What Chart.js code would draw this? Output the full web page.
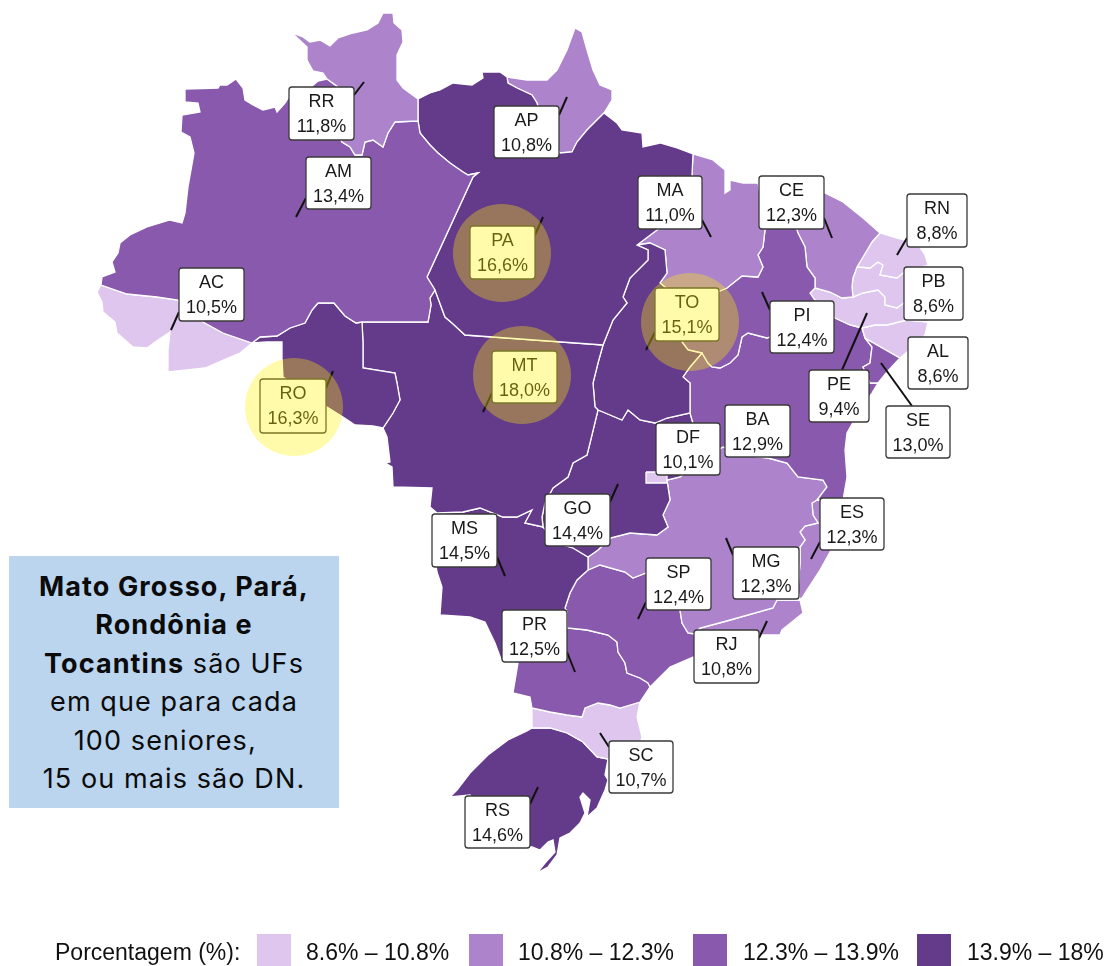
<!DOCTYPE html>
<html lang="pt-BR">
<head>
<meta charset="utf-8">
<title>Porcentagem por UF</title>
<script src="https://cdn.jsdelivr.net/npm/chart.js@4"></script>
<style>
    html, body { margin: 0; padding: 0; background: #fff; }
    #wrap { position: relative; width: 1109px; height: 966px; overflow: hidden; }
    canvas { position: absolute; left: 0; top: 0; }
    #note {
        position: absolute; left: 9px; top: 556px; width: 330px; height: 252px;
        background: #bbd5ee; color: #0b0b0b;
        font-family: Inter, "Open Sans", sans-serif; font-size: 27px; line-height: 38.4px; letter-spacing: 1.1px;
        text-align: center; white-space: pre; padding-top: 12px; box-sizing: border-box;
    }
    #legend { font-family: "Liberation Sans", Arial, sans-serif; font-size: 23px; color: #111; }
    #legend span { position: absolute; top: 938px; line-height: 28px; white-space: pre; }
    #legend i { position: absolute; top: 934px; width: 34px; height: 32px; }
</style>
</head>
<body>
<div id="wrap">
    <canvas id="mapChart" width="1109" height="966"></canvas>
    <div id="note"><b>Mato Grosso, Pará,</b>
<b>Rondônia e</b>
<b>Tocantins</b> são UFs
em que para cada
100 seniores,&nbsp;&nbsp;
15 ou mais são DN.</div>
    <div id="legend"></div>
</div>
<script>
const ufCodes = ['DF','RR','AM','AC','RO','PA','AP','MT','TO','MA','PI','CE','RN','PB','PE','AL','SE','BA','GO','MS','MG','ES','RJ','SP','PR','SC','RS'];
const ufValues = [10.1,11.8,13.4,10.5,16.3,16.6,10.8,18.0,15.1,11.0,12.4,12.3,8.8,8.6,9.4,8.6,13.0,12.9,14.4,14.5,12.3,12.3,10.8,12.4,12.5,10.7,14.6];

const binLimits = [10.7, 12.3, 13.9, 18];
const binColors = ['#dec6ee', '#ad84cc', '#8859ad', '#643a8b'];
const binLabels = ['8.6% – 10.8%', '10.8% – 12.3%', '12.3% – 13.9%', '13.9% – 18%'];
const legendTitle = 'Porcentagem (%):';

const highlighted = ['RO','PA','MT','TO'];
const highlightCenters = [[294,407],[502,253],[522,375],[690,322]];

// label boxes: left, top, right, bottom (same order as ufCodes)
const labelBoxes = [[656,423,720,475],[289,87,354,140],[306,157,371,209],[179,268,244,321],[260,379,326,433],[470,226,535,279],[494,106,559,158],[492,351,557,403],[655,288,719,341],[638,176,702,229],[770,301,834,353],[759,176,824,229],[907,194,967,247],[904,267,963,320],[809,370,869,422],[908,337,968,389],[886,406,950,458],[725,405,790,457],[545,494,610,546],[432,514,497,567],[733,547,799,599],[820,498,884,550],[694,630,759,683],[646,558,711,610],[502,610,567,662],[609,741,673,793],[465,796,530,848]];

// leader lines
const leaders = [[[354,95],[364,82]],[[306,198],[296,217]],[[179,312],[171,330]],[[559,115],[567,97]],[[535,235],[543,217]],[[702,220],[711,237]],[[655,332],[646,350]],[[492,393],[483,412]],[[326,388],[333,371]],[[497,557],[505,576]],[[610,502],[618,484]],[[646,602],[638,619]],[[733,555],[726,538]],[[820,542],[811,559]],[[759,638],[767,621]],[[567,652],[575,672]],[[609,747],[600,733]],[[530,804],[538,787]],[[824,218],[832,238]],[[907,238],[897,255]],[[770,310],[762,292]],[[842,370],[867,313]],[[912,406],[881,363]]];

// borders, shared between neighbours
const rrOuter = [[327,79],[323,73],[313,71],[307,60],[307,47],[292,33],[303,37],[310,42],[320,40],[330,46],[338,38],[353,33],[367,30],[378,23],[383,13],[393,13],[394,23],[402,30],[403,42],[397,55],[397,80],[403,88],[418,99],[418,121]];
const rrAm = [[418,121],[395,122],[388,133],[383,147],[373,140],[365,142],[362,155],[355,155],[350,147],[342,142],[337,133],[343,110],[338,87],[327,79]];
const amNorth = [[327,79],[318,81],[310,88],[290,95],[285,103],[277,112],[275,107],[263,110],[253,105],[245,100],[243,88],[236,79],[227,85],[220,85],[218,88],[185,89],[185,102],[198,103],[200,112],[182,115],[181,132],[190,137],[194,153],[188,187],[185,213],[182,223],[170,220],[147,227],[130,235],[120,243],[118,253],[112,262],[115,272],[102,277],[101,285]];
const acAm = [[101,285],[127,294],[157,297],[178,300],[203,322],[223,333],[252,343]];
const acSouth = [[101,285],[97,292],[102,302],[103,312],[115,322],[117,333],[133,347],[147,348],[158,340],[170,332],[168,350],[168,372],[205,368],[228,358],[240,353],[252,343]];
const amRo = [[252,343],[260,337],[277,336],[290,328],[305,323],[312,310],[318,303],[334,303],[345,316],[356,323],[362,322]];
const amMt = [[362,322],[428,322],[431,305],[430,298],[435,290]];
const amPa = [[435,290],[427,277],[473,177],[478,173],[468,175],[463,172],[450,163],[438,153],[430,145],[420,133],[418,121]];
const roMt = [[362,322],[363,343],[363,368],[395,373],[397,383],[400,400],[393,413],[383,428]];
const roSouth = [[383,428],[373,426],[355,425],[343,417],[327,407],[283,377],[282,358],[282,342],[267,342],[252,343]];
const paNorth = [[418,121],[418,99],[430,93],[440,90],[453,83],[472,85],[483,78],[482,72],[500,72],[507,77]];
const paAp = [[507,77],[508,83],[517,88],[532,95],[537,103],[545,130],[560,153],[572,152],[577,142],[587,130],[600,117],[604,113]];
const apOuter = [[507,77],[527,80],[547,80],[557,70],[567,50],[575,28],[582,32],[587,50],[593,70],[600,85],[612,90],[612,100],[604,113]];
const paCoast = [[604,113],[617,123],[622,130],[642,133],[643,147],[660,143],[677,148],[693,154]];
const paMa = [[693,154],[692,175],[690,195],[680,215],[657,230],[637,245]];
const paTo = [[637,245],[648,250],[648,260],[630,278],[623,297],[627,303],[613,320],[603,345]];
const paMt = [[435,290],[445,317],[452,323],[465,335],[603,345]];
const maTo = [[637,245],[650,243],[665,250],[667,273],[660,283],[680,300]];
const toPi = [[680,300],[682,342],[688,350],[697,352],[702,353]];
const toBa = [[702,353],[690,367],[683,377],[690,383],[690,413]];
const toGo = [[690,413],[667,418],[655,423],[640,420],[628,410],[622,420],[603,412],[598,410]];
const mtTo = [[603,345],[598,363],[593,383],[595,407],[598,410]];
const mtGo = [[598,410],[590,443],[587,455],[573,463],[568,477],[553,488],[545,503],[542,517],[543,527]];
const mtMs = [[543,527],[525,523],[532,510],[517,517],[503,517],[480,508],[463,512],[437,513]];
const mtWest = [[437,513],[430,507],[432,488],[393,487],[392,467],[385,463],[390,462],[387,437],[383,428]];
const maCoast = [[693,154],[713,160],[725,170],[725,193],[730,190],[730,180],[743,183],[758,183]];
const maPi = [[758,183],[762,205],[765,230],[763,247],[758,255],[763,267],[758,277],[742,276],[727,288],[720,291],[705,295],[680,300]];
const piCoast = [[758,183],[775,186]];
const piCe = [[775,186],[790,210],[798,233],[805,247],[807,267],[815,278],[815,288]];
const piPe = [[815,288],[810,293],[817,303],[826,315]];
const piBa = [[826,315],[800,325],[767,338],[748,333],[742,337],[738,355],[730,363],[720,368],[712,367],[708,363],[702,353]];
const ceCoast = [[775,186],[790,187],[823,192],[843,202],[863,218],[880,233]];
const ceRn = [[880,233],[872,242],[863,257],[857,267]];
const cePb = [[857,267],[853,278],[852,287],[853,297]];
const cePe = [[815,288],[830,292],[842,298],[853,297]];
const rnCoast = [[880,233],[897,238],[917,243],[925,255],[928,265]];
const rnPb = [[857,267],[870,268],[878,262],[883,265],[880,275],[897,278],[903,273],[928,265]];
const pbCoast = [[928,265],[932,290],[932,305]];
const pbPe = [[853,297],[863,293],[878,290],[885,297],[885,305],[897,308],[905,302],[932,305]];
const peCoast = [[932,305],[928,322]];
const peAl = [[862,328],[875,325],[887,325],[907,320],[928,322]];
const peBa = [[826,315],[835,318],[850,325],[862,328]];
const alCoast = [[928,322],[925,335],[913,347],[900,358]];
const alSe = [[865,338],[900,358]];
const seCoast = [[900,358],[887,372],[878,383]];
const seBa = [[878,383],[870,383],[863,367],[870,363],[872,347],[865,338]];
const baCoast = [[878,383],[872,393],[860,410],[847,433],[845,450],[847,477],[843,500]];
const baEs = [[817,500],[843,500]];
const goBa = [[690,413],[695,430],[700,460]];
const mgBa = [[700,460],[723,447],[745,455],[768,458],[787,463],[798,477],[823,480],[827,487],[817,500]];
const goMs = [[543,527],[553,538],[563,545],[573,548],[588,557]];
const goMg = [[588,557],[598,550],[610,538],[630,533],[657,535],[668,527],[663,515],[670,500],[667,480],[680,477],[700,460]];
const msMg = [[588,557],[588,570]];
const msSp = [[588,570],[577,580],[570,593],[565,608],[567,612]];
const msPr = [[567,612],[555,620],[530,640],[505,660]];
const msWest = [[505,660],[502,662],[495,643],[485,622],[470,617],[440,615],[442,587],[437,572],[432,540],[437,513]];
const mgSp = [[588,570],[600,565],[625,572],[633,578],[646,573],[665,580],[680,610],[682,623],[688,633],[695,634]];
const mgEs = [[817,500],[812,503],[813,515],[818,523],[805,526],[800,532],[805,540],[800,547],[800,563],[798,590],[800,600]];
const mgRj = [[800,600],[777,600],[773,608],[723,622],[700,628],[695,634]];
const esCoast = [[843,500],[838,530],[830,552],[820,570],[807,590],[802,598],[800,600]];
const rjCoast = [[800,600],[803,613],[782,630],[780,635],[760,635],[730,648],[705,653]];
const spRj = [[695,634],[705,653]];
const spCoast = [[705,653],[693,657],[670,667],[650,687]];
const prSp = [[567,612],[567,628],[587,630],[608,635],[617,642],[618,652],[625,663],[627,673],[640,678],[648,683],[650,687]];
const prCoast = [[650,687],[640,702]];
const prSc = [[640,702],[620,708],[610,705],[598,703],[585,708],[582,717],[567,715],[550,712],[532,708]];
const prWest = [[532,708],[530,697],[513,693],[518,663],[505,660]];
const scCoast = [[640,702],[637,717],[642,737],[640,745],[612,760],[608,759]];
const scRs = [[608,759],[597,757],[583,742],[567,733],[550,728],[532,728]];
const rsCoast = [[608,759],[605,775],[608,780],[605,790],[597,808],[587,817],[590,800],[583,793],[580,797],[585,813],[580,823],[570,833],[560,838],[557,855],[548,867],[537,873],[545,863],[555,852],[553,840],[548,842],[540,850],[532,847],[515,845],[490,820],[470,795],[450,797],[457,790],[470,773],[488,755],[508,740],[527,731],[532,728]];
const dfShape = [[646,472],[667,472],[667,483],[646,483],[646,472]];

function rev(seg) { return seg.slice().reverse(); }
function ring(...segs) {
    const pts = [].concat(...segs);
    pts.push(pts[0]);
    return pts.map(p => ({ x: p[0], y: p[1] }));
}

const shapes = {
    DF: ring(dfShape),
    RR: ring(rrOuter, rrAm),
    AM: ring(amNorth, acAm, amRo, amMt, amPa, rrAm),
    AC: ring(rev(acAm), acSouth),
    RO: ring(amRo, roMt, roSouth),
    PA: ring(paNorth, paAp, paCoast, paMa, paTo, rev(paMt), amPa),
    AP: ring(apOuter, rev(paAp)),
    MT: ring(amMt, paMt, mtTo, mtGo, mtMs, mtWest, rev(roMt)),
    TO: ring(rev(paTo), maTo, toPi, toBa, toGo, rev(mtTo)),
    MA: ring(maCoast, maPi, rev(maTo), rev(paMa)),
    PI: ring(piCoast, piCe, piPe, piBa, rev(toPi), rev(maPi)),
    CE: ring(ceCoast, ceRn, cePb, rev(cePe), rev(piCe)),
    RN: ring(rnCoast, rev(rnPb), rev(ceRn)),
    PB: ring(rnPb, pbCoast, rev(pbPe), rev(cePb)),
    PE: ring(cePe, pbPe, peCoast, rev(peAl), rev(peBa), rev(piPe)),
    AL: ring(peAl, alCoast, rev(alSe)),
    SE: ring(alSe, seCoast, seBa),
    BA: ring(toBa, goBa, mgBa, baEs, rev(baCoast), seBa, rev(peBa), piBa),
    GO: ring(rev(toGo), mtGo, goMs, goMg, rev(goBa)),
    MS: ring(rev(mtMs), goMs, msMg, msSp, msPr, msWest),
    MG: ring(goMg, mgBa, mgEs, mgRj, rev(mgSp), rev(msMg)),
    ES: ring(baEs, esCoast, rev(mgEs)),
    RJ: ring(rev(mgRj), rjCoast, rev(spRj)),
    SP: ring(mgSp, spRj, spCoast, rev(prSp), rev(msSp)),
    PR: ring(prSp, prCoast, prSc, prWest, rev(msPr)),
    SC: ring(rev(prSc), scCoast, scRs),
    RS: ring(rev(scRs), rsCoast)
};

function binColor(v) {
    return binColors[binLimits.findIndex(l => v <= l)];
}

// --- datasets ---
const stateSets = ufCodes.map(function(uf, i) {
    return {
        label: uf,
        data: shapes[uf],
        showLine: true,
        fill: 'shape',
        backgroundColor: binColor(ufValues[i]),
        borderColor: '#ffffff',
        borderWidth: 1.3,
        pointRadius: 0,
        tension: 0,
        clip: false,
        order: uf === 'DF' ? 2 : 3
    };
});

const leaderSets = leaders.map(function(l) {
    return {
        label: 'leader',
        data: l.map(p => ({ x: p[0], y: p[1] })),
        showLine: true,
        fill: false,
        borderColor: '#111111',
        borderWidth: 2,
        pointRadius: 0,
        clip: false,
        order: 1
    };
});

const highlightSet = {
    label: highlighted.join(' '),
    data: highlightCenters.map(p => ({ x: p[0], y: p[1] })),
    showLine: false,
    pointRadius: 49,
    pointHoverRadius: 49,
    pointBorderWidth: 0,
    backgroundColor: 'rgba(255, 243, 0, 0.33)',
    borderWidth: 0,
    clip: false,
    order: 0
};

// boxes sit between the leader lines and the yellow circles
const ufLabels = {
    id: 'ufLabels',
    beforeDatasetDraw(chart, args) {
        if (chart.data.datasets[args.index] !== highlightSet) return;
        const ctx = chart.ctx;
        const xs = chart.scales.x, ys = chart.scales.y;
        ctx.save();
        ctx.textAlign = 'center';
        ctx.textBaseline = 'middle';
        ufCodes.forEach(function(uf, i) {
            const b = labelBoxes[i];
            const left = xs.getPixelForValue(b[0]), top = ys.getPixelForValue(b[1]);
            const right = xs.getPixelForValue(b[2]), bottom = ys.getPixelForValue(b[3]);
            ctx.beginPath();
            ctx.roundRect(left, top, right - left, bottom - top, 3);
            ctx.fillStyle = '#ffffff';
            ctx.fill();
            ctx.lineWidth = 1.3;
            ctx.strokeStyle = '#3a3a3a';
            ctx.stroke();
            ctx.fillStyle = '#1a1a1a';
            ctx.font = '18px "Liberation Sans", Arial, sans-serif';
            ctx.fillText(uf, (left + right) / 2, top + 15);
            ctx.fillText(ufValues[i].toFixed(1).replace('.', ',') + '%', (left + right) / 2, top + 40.5);
        });
        ctx.restore();
    }
};

document.addEventListener('DOMContentLoaded', function() {
    new Chart(document.getElementById('mapChart'), {
        type: 'scatter',
        data: { datasets: [highlightSet].concat(leaderSets, stateSets) },
        options: {
            responsive: false,
            animation: false,
            parsing: false,
            events: [],
            layout: { padding: 0, autoPadding: false },
            plugins: { legend: { display: false }, tooltip: { enabled: false } },
            scales: {
                x: { type: 'linear', display: false, min: 0, max: 1109 },
                y: { type: 'linear', display: false, min: 0, max: 966, reverse: true }
            }
        },
        plugins: [ufLabels]
    });

    // legend row under the map
    const legend = document.getElementById('legend');
    const swatchX = [257, 469, 693, 917];
    const textX = [306, 518, 743, 967];
    let html = '<span style="left:55px">' + legendTitle + '</span>';
    binLabels.forEach(function(txt, i) {
        html += '<i style="left:' + swatchX[i] + 'px;background:' + binColors[i] + '"></i>';
        html += '<span style="left:' + textX[i] + 'px">' + txt + '</span>';
    });
    legend.innerHTML = html;
});
</script>
</body>
</html>
